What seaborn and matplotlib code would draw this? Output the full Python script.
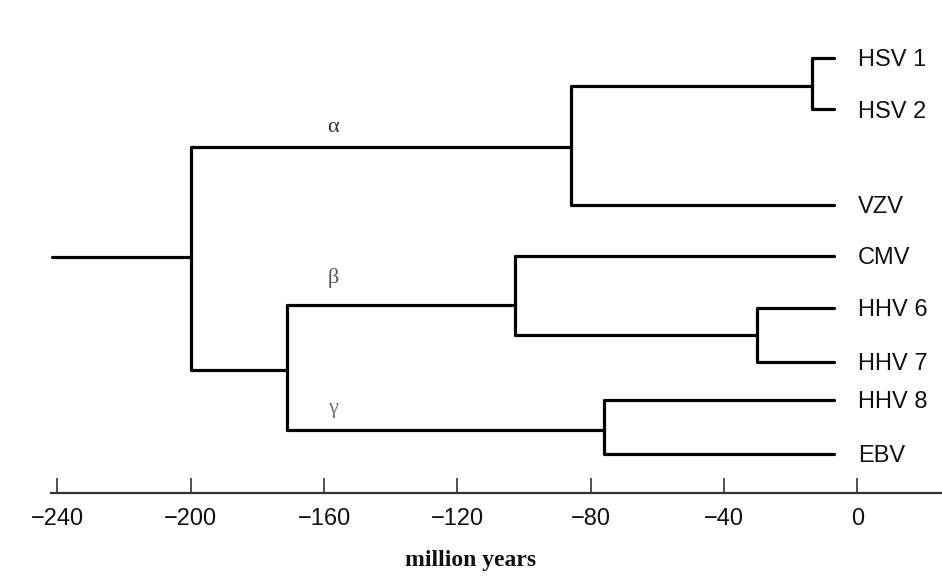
import numpy as np
import pandas as pd
import matplotlib
matplotlib.use("Agg")
import matplotlib.pyplot as plt
import seaborn as sns

# leaves (top to bottom) and their rows
leaves = ['HSV 1', 'HSV 2', 'VZV', 'CMV', 'HHV 6', 'HHV 7', 'HHV 8', 'EBV']
leaf_row = [0.0, 1.0, 2.85, 3.85, 4.85, 5.9, 6.65, 7.7]
tip_age = -7

# internal nodes: name, age (million years), row, children
node_names = ['HSV', 'alpha', 'HHV67', 'beta', 'gamma', 'betagamma', 'root']
node_age = [-13.6, -86, -30, -102.7, -76, -171, -200]
node_row = [0.54, 1.73, 5.38, 4.8, 7.22, 6.06, 3.86]
node_children = [
    ('HSV 1', 'HSV 2'),
    ('HSV', 'VZV'),
    ('HHV 6', 'HHV 7'),
    ('CMV', 'HHV67'),
    ('HHV 8', 'EBV'),
    ('beta', 'gamma'),
    ('alpha', 'betagamma'),
]
root_start = -241.5

greek = ['α', 'β', 'γ']
greek_age = [-157.3, -157.3, -157.3]
greek_row = [1.36, 4.27, 6.8]
greek_color = ['#333333', '#555555', '#777777']

xticks = [-240, -200, -160, -120, -80, -40, 0]

# lookup tables
age = {n: tip_age for n in leaves}
row = dict(zip(leaves, leaf_row))
age.update(zip(node_names, node_age))
row.update(zip(node_names, node_row))

# build elbow segments
recs = []
seg = 0
for name, kids in zip(node_names, node_children):
    for k in kids:
        pts = [(age[name], row[name]), (age[name], row[k]), (age[k], row[k])]
        for x, y in pts:
            recs.append({'x': x, 'y': y, 'seg': seg})
        seg += 1
for x in (root_start, age['root']):
    recs.append({'x': x, 'y': row['root'], 'seg': seg})
segs = pd.DataFrame(recs)

sns.set_theme(style='white')
plt.rcParams['font.family'] = ['Liberation Sans', 'DejaVu Sans']

fig = plt.figure(figsize=(9.42, 5.79), dpi=100)
ax = fig.add_axes([0, 0.1485, 1, 0.8515])

sns.lineplot(data=segs, x='x', y='y', units='seg', estimator=None, sort=False,
             color='black', linewidth=2.3, ax=ax, legend=False)

for name, r in zip(leaves, leaf_row):
    ax.text(0.2, r + 0.04, name, ha='left', va='center', fontsize=17,
            color='#111111')

for g, a, r, c in zip(greek, greek_age, greek_row, greek_color):
    ax.text(a, r, g, ha='center', va='center', fontsize=16, color=c,
            family=['Liberation Serif', 'DejaVu Serif'])

ax.set_xlim(-257.2, 25.4)
ax.set_ylim(8.45, -1.126)

for s in ['top', 'left', 'right']:
    ax.spines[s].set_visible(False)
ax.spines['bottom'].set_color('#333333')
ax.spines['bottom'].set_linewidth(1.6)
ax.spines['bottom'].set_bounds(-242, 25.4)

ax.set_yticks([])
ax.set_xticks(xticks)
ax.set_xticklabels(['\u2212' + str(abs(t)) if t < 0 else str(t) for t in xticks])
ax.tick_params(axis='x', direction='in', length=11, width=1.2, color='#333333',
               pad=11, labelsize=17, labelcolor='#111111', bottom=True)
ax.set_xlabel('million years', fontsize=17, fontweight='bold', color='#111111',
              family=['Liberation Serif', 'DejaVu Serif'], labelpad=14)
ax.set_ylabel('')

fig.savefig('out.png', dpi=100, facecolor='white')
